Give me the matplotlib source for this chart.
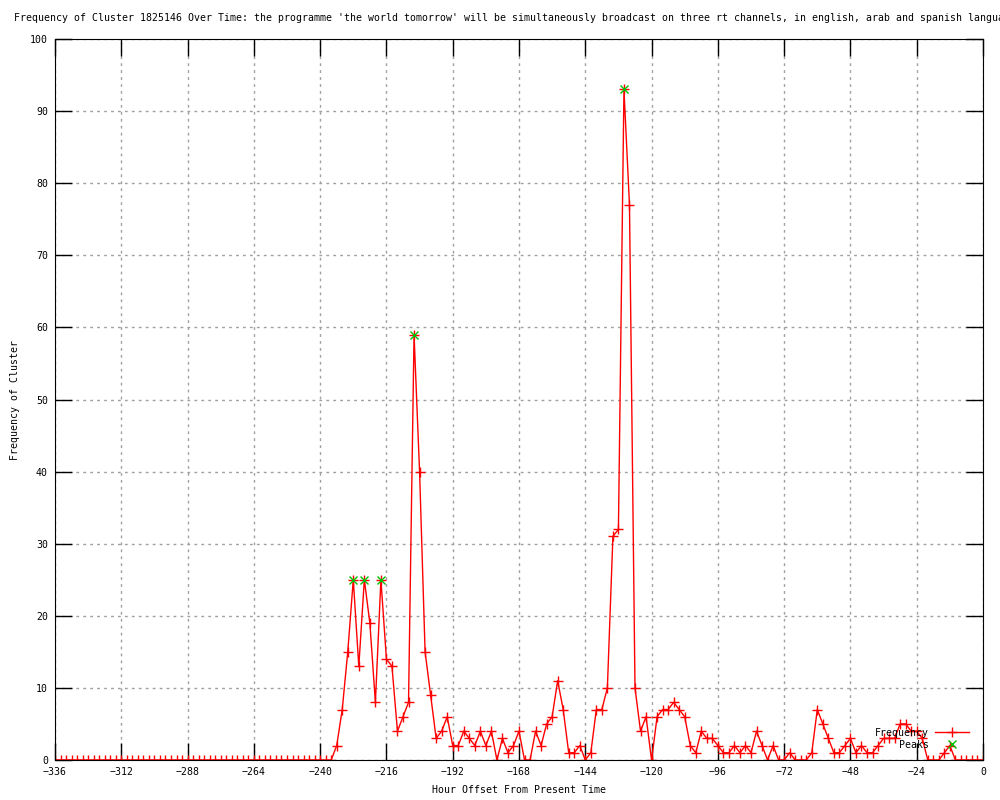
import matplotlib
matplotlib.use("Agg")
import matplotlib.pyplot as plt
import numpy as np

# hour offsets, one sample every 2 hours
hours = np.arange(-336, 1, 2)

freq = [
    0, 0, 0, 0, 0, 0, 0, 0, 0, 0, 0, 0, 0, 0, 0, 0, 0, 0, 0, 0,
    0, 0, 0, 0, 0, 0, 0, 0, 0, 0, 0, 0, 0, 0, 0, 0, 0, 0, 0, 0,
    0, 0, 0, 0, 0, 0, 0, 0, 0, 0, 0,
    2, 7, 15, 25, 13, 25, 19, 8, 25, 14, 13, 4, 6, 8, 59, 40, 15, 9, 3, 4,
    6, 2, 2, 4, 3, 2, 4, 2, 4, 0, 3, 1, 2, 4, 0, 0, 4, 2, 5, 6,
    11, 7, 1, 1, 2, 0, 1, 7, 7, 10, 31, 32, 93, 77, 10, 4, 6, 0, 6, 7,
    7, 8, 7, 6, 2, 1, 4, 3, 3, 2, 1, 1, 2, 1, 2, 1, 4, 2, 0, 2,
    0, 0, 1, 0, 0, 0, 1, 7, 5, 3, 1, 1, 2, 3, 1, 2, 1, 1, 2, 3,
    3, 3, 5, 5, 4, 4, 3, 0, 0, 0, 1, 2, 0, 0, 0, 0, 0, 0,
]

peak_hours = [-228, -224, -218, -206, -130]
peak_vals = [25, 25, 25, 59, 93]

title = ("Frequency of Cluster 1825146 Over Time: the programme 'the world tomorrow' "
         "will be simultaneously broadcast on three rt channels, in english, arab and spanish languages")

plt.rcParams['font.family'] = 'DejaVu Sans Mono'
fs = 7.1

fig = plt.figure(figsize=(10, 8), dpi=100)
ax = fig.add_axes([0.055, 0.05, 0.928, 0.90125])

l1, = ax.plot(hours, freq, color='red', lw=1, marker='+', ms=7, mew=1, label='Frequency')
l2, = ax.plot(peak_hours, peak_vals, color='#00c000', lw=0, marker='x', ms=6, mew=1, label='Peaks')

ax.set_xlim(-336, 0)
ax.set_ylim(0, 100)
ax.set_xticks(np.arange(-336, 1, 24))
ax.set_yticks(np.arange(0, 101, 10))
ax.grid(True, color='#a0a0a0', linestyle=(0, (2, 3)), lw=1)
ax.tick_params(direction='in', length=12, width=1, top=True, right=True,
               labelsize=fs, pad=5)

ax.set_xlabel("Hour Offset From Present Time", fontsize=fs, labelpad=6)
ax.set_ylabel("Frequency of Cluster", fontsize=fs, labelpad=7)
fig.text(0.014, 0.978, title, fontsize=fs, ha='left', va='center')

# gnuplot style key: text right-aligned, sample on the right
leg1 = ax.legend([l1], ['Frequency'], loc='center right', bbox_to_anchor=(0.974, 0.084),
                 bbox_transform=fig.transFigure, frameon=False, markerfirst=False,
                 fontsize=fs, handlelength=3.5, borderpad=0, handletextpad=0.6)
ax.add_artist(leg1)
ax.legend([l2], ['Peaks'], loc='center right', bbox_to_anchor=(0.974, 0.069),
          bbox_transform=fig.transFigure, frameon=False, markerfirst=False,
          fontsize=fs, handlelength=3.5, borderpad=0, handletextpad=0.6)

fig.savefig("out.png", dpi=100)
